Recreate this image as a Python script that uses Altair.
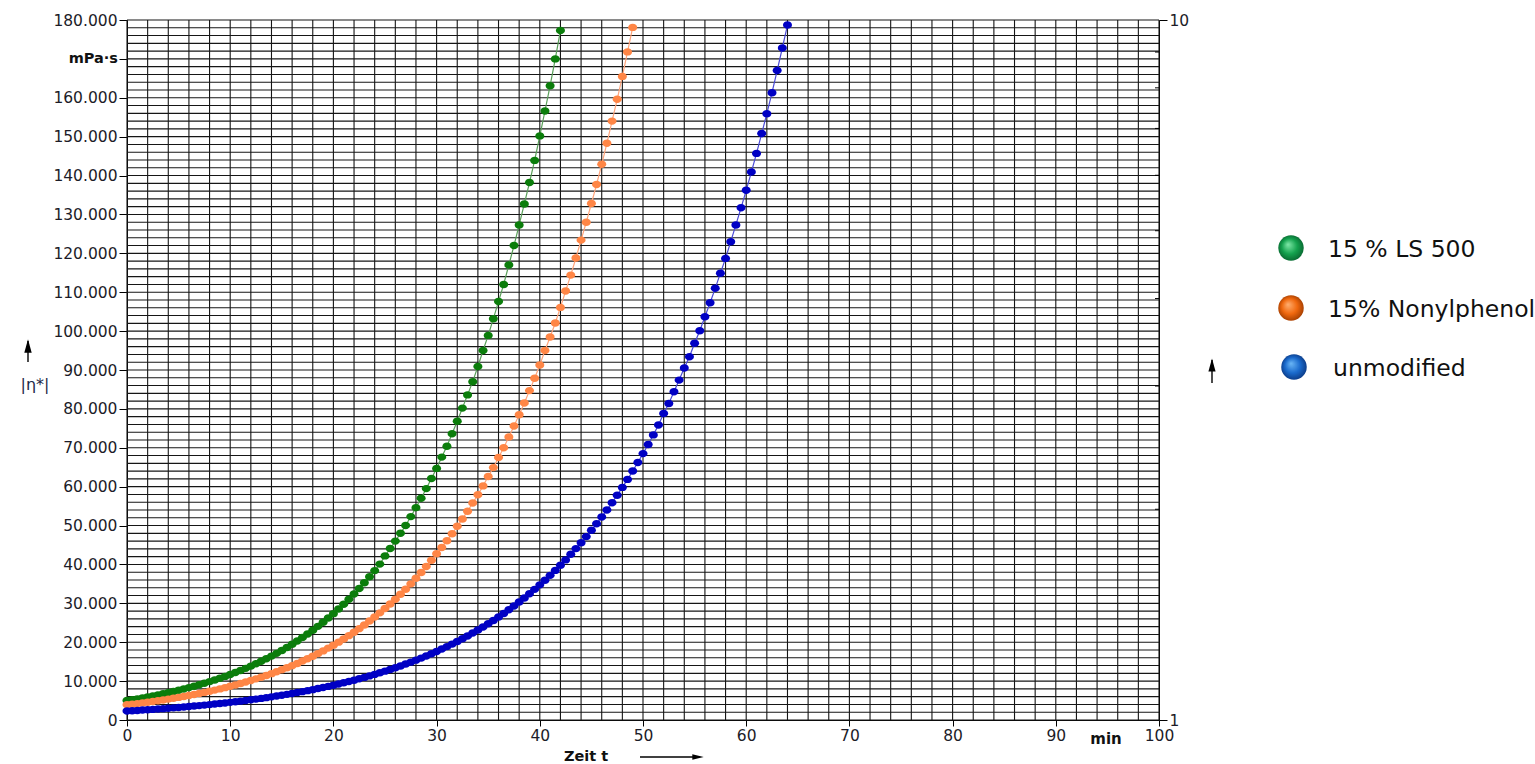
import altair as alt
import pandas as pd

# Complex viscosity |eta*| in mPa·s, one reading every 0.5 min from t = 0
STEP_MIN = 0.5

visc_ls500 = [
    5000, 5220, 5440, 5680, 5930, 6180, 6450, 6730, 7020, 7330,
    7650, 7980, 8330, 8690, 9060, 9460, 9870, 10300, 10740, 11210,
    11700, 12200, 12730, 13280, 13860, 14460, 15090, 15750, 16430, 17140,
    17890, 18660, 19470, 20320, 21200, 22120, 23080, 24080, 25120, 26220,
    27350, 28540, 29780, 31070, 32420, 33830, 35290, 36830, 38420, 40090,
    42200, 44100, 46000, 48000, 50000, 52300, 54600, 57000, 59500, 62100,
    64700, 67600, 70400, 73600, 76800, 80200, 83600, 87000, 90900, 95000,
    98900, 103200, 107600, 112000, 117000, 122000, 127300, 132700, 138200, 143900,
    150200, 156600, 163100, 170000, 177300,
]

visc_nonylphenol = [
    3900, 4060, 4220, 4400, 4580, 4760, 4960, 5160, 5370, 5590,
    5810, 6050, 6300, 6550, 6820, 7100, 7390, 7690, 8000, 8320,
    8660, 9020, 9380, 9770, 10160, 10580, 11010, 11450, 11920, 12410,
    12910, 13440, 13980, 14550, 15150, 15760, 16400, 17070, 17770, 18490,
    19240, 20020, 20840, 21690, 22570, 23490, 24450, 25440, 26480, 27550,
    28680, 29840, 31060, 32320, 33640, 35010, 36430, 37910, 39460, 41060,
    42730, 44370, 46100, 47900, 49800, 51700, 53700, 55800, 57900, 60200,
    62600, 64900, 67500, 70000, 72800, 75600, 78500, 81500, 84700, 87900,
    91300, 95000, 98500, 102100, 106100, 110300, 114400, 118800, 123400, 128000,
    132800, 137700, 142900, 148300, 154000, 159600, 165500, 171800, 178100,
]

visc_unmodified = [
    2300, 2380, 2460, 2550, 2640, 2730, 2820, 2920, 3020, 3120,
    3230, 3340, 3460, 3580, 3700, 3830, 3960, 4100, 4240, 4380,
    4540, 4690, 4850, 5020, 5200, 5370, 5560, 5750, 5950, 6160,
    6370, 6590, 6820, 7050, 7290, 7550, 7810, 8080, 8360, 8640,
    8940, 9250, 9570, 9900, 10240, 10600, 10960, 11340, 11730, 12140,
    12560, 12990, 13440, 13900, 14380, 14880, 15390, 15920, 16470, 17040,
    17630, 18240, 18870, 19520, 20190, 20890, 21610, 22350, 23130, 23920,
    24750, 25600, 26490, 27400, 28350, 29330, 30340, 31390, 32470, 33590,
    34750, 35950, 37190, 38470, 39800, 41170, 42600, 44070, 45590, 47160,
    48790, 50470, 52210, 54020, 55880, 57810, 59810, 61870, 64010, 66210,
    68500, 70860, 73310, 75840, 78800, 81400, 84400, 87400, 90500, 93400,
    96900, 100100, 103700, 107300, 111000, 114900, 118700, 123000, 127300, 131700,
    136200, 140900, 145700, 150800, 155900, 161300, 167000, 172800, 178700,
]

series_names = ["15 % LS 500", "15% Nonylphenol", "unmodified"]
point_colors = ["#0b7d0b", "#ff8646", "#0000c4"]
line_colors = ["#5a9f5a", "#ffa57c", "#4a4ad6"]

x_ticks = [0, 10, 20, 30, 40, 50, 60, 70, 80, 90, 100]
y_ticks = [0, 10000, 20000, 30000, 40000, 50000, 60000, 70000, 80000, 90000,
           100000, 110000, 120000, 130000, 140000, 150000, 160000, 170000, 180000]
grid_t = list(range(0, 101, 2))
grid_eta = list(range(0, 180001, 2000))
log_labels = [1, 10]
log_minor = [2, 3, 4, 5, 6, 7, 8, 9]

W, H = 1032, 700
FONT = "DejaVu Sans"
INK = "#1c1c28"
GRID = "#161616"

xs = alt.Scale(domain=[0, 100], nice=False, zero=False)
ys = alt.Scale(domain=[0, 180000], nice=False)

xax = alt.Axis(values=x_ticks, title=None, grid=False, tickSize=6, tickColor="#000",
               domainColor="#000", labelFontSize=15.5, labelColor=INK, labelFont=FONT,
               labelPadding=2, labelFlush=False, labelOverlap=False)
yax = alt.Axis(values=y_ticks, title=None, grid=False, tickSize=8, tickColor="#000",
               domainColor="#000", labelFontSize=15.5, labelColor=INK, labelFont=FONT,
               labelPadding=2, labelOverlap=False,
               labelExpr="datum.value == 170000 ? '' : replace(format(datum.value, ','), ',', '.')")

ELLIPSE = "M -1 0 A 1 0.82 0 1 0 1 0 A 1 0.82 0 1 0 -1 0 Z"

# chart grid: 2 min by 2.000 mPa·s
grid_v = alt.Chart(pd.DataFrame({"t": grid_t})).mark_rule(color=GRID, strokeWidth=1.1).encode(
    x=alt.X("t:Q", scale=xs, axis=xax))
grid_h = alt.Chart(pd.DataFrame({"eta": grid_eta})).mark_rule(color=GRID, strokeWidth=1.1).encode(
    y=alt.Y("eta:Q", scale=ys, axis=yax))

curves = []
for vals, pc, lc in zip([visc_ls500, visc_nonylphenol, visc_unmodified], point_colors, line_colors):
    df = pd.DataFrame({"t": [i * STEP_MIN for i in range(len(vals))], "eta": vals})
    base = alt.Chart(df).encode(x=alt.X("t:Q", scale=xs, axis=xax),
                                y=alt.Y("eta:Q", scale=ys, axis=yax))
    curves.append(base.mark_line(color=lc, strokeWidth=1.2))
    curves.append(base.mark_point(shape=ELLIPSE, size=82, filled=True, color=pc,
                                  opacity=1, strokeWidth=0))

one = pd.DataFrame({"k": [0]})


def note(text, x, y, size=15.5, weight="normal", align="left", color=INK):
    return alt.Chart(one).mark_text(text=text, font=FONT, fontSize=size, fontWeight=weight,
                                    align=align, baseline="middle", color=color).encode(
        x=alt.value(x), y=alt.value(y))


def arrow(x1, y1, x2, y2, hx, hy, head, size=150):
    stem = alt.Chart(one).mark_rule(color="#000", strokeWidth=1.4).encode(
        x=alt.value(x1), y=alt.value(y1), x2=alt.value(x2), y2=alt.value(y2))
    tip = alt.Chart(one).mark_point(shape=head, size=size, filled=True, color="#000",
                                    opacity=1, strokeWidth=0).encode(x=alt.value(hx), y=alt.value(hy))
    return [stem, tip]


UP = "M 0 -1 L 0.55 1 L -0.55 1 Z"
RIGHT = "M 1 0 L -1 -0.5 L -1 0.5 Z"

notes = [
    note("mPa·s", -9, H - 170000 / 180000 * H, size=14.5, weight="bold", align="right", color="#111"),
    note("min", 979, 719, size=15, weight="bold", align="center", color="#111"),
    note("Zeit t", 459, 737, size=14.5, weight="bold", align="center", color="#111"),
    note("|η*|", -92, 365, size=16, align="center", color="#1e2a4a"),
]
notes += arrow(-99, 321, -99, 342, -99, 326, UP, size=180)
notes += arrow(1085, 340, 1085, 363, 1085, 345, UP, size=170)
notes += arrow(513, 737, 570, 737, 571, 737, RIGHT, size=130)

# legend: shaded spheres with labels
sphere_stops = [
    ["#7fe8a8", "#14a24e", "#08622e"],
    ["#ffae70", "#f0680e", "#9c3a00"],
    ["#6ab6f6", "#1a6acc", "#0a357e"],
]
legend_y = [228, 288, 347]
legend_x = [1164, 1164, 1167]
text_x = [1201, 1201, 1206]
legend = []
for name, stops, ly, lx, tx in zip(series_names, sphere_stops, legend_y, legend_x, text_x):
    grad = {"gradient": "radial", "x1": 0.38, "y1": 0.36, "r1": 0.0,
            "x2": 0.5, "y2": 0.5, "r2": 0.55,
            "stops": [{"offset": 0, "color": stops[0]},
                      {"offset": 0.55, "color": stops[1]},
                      {"offset": 1, "color": stops[2]}]}
    legend.append(alt.Chart(one).mark_circle(size=650, fill=grad, opacity=1, strokeWidth=0).encode(
        x=alt.value(lx), y=alt.value(ly)))
    legend.append(note(name, tx, ly + 2, size=23.5, color="#111"))

left_part = alt.layer(grid_v, grid_h, *curves, *notes, *legend)

# secondary logarithmic axis on the right (1 ... 10)
log_scale = alt.Scale(type="log", domain=[1, 10], nice=False)
rax = alt.Axis(orient="right", values=log_labels, format="d", title=None, grid=False,
               tickSize=8, tickColor="#000", domainColor="#000", labelFontSize=15.5,
               labelColor=INK, labelFont=FONT, labelPadding=2, labelOverlap=False)
r_axis = alt.Chart(pd.DataFrame({"r": log_labels})).mark_point(opacity=0).encode(
    y=alt.Y("r:Q", scale=log_scale, axis=rax))
r_minor = alt.Chart(pd.DataFrame({"r": log_minor})).mark_rule(color="#000", strokeWidth=1).encode(
    y=alt.Y("r:Q", scale=log_scale, axis=rax), x=alt.value(W - 4), x2=alt.value(W))
right_part = alt.layer(r_axis, r_minor)

chart = alt.layer(left_part, right_part).resolve_scale(y="independent").properties(
    width=W, height=H, autosize="none",
    padding={"left": 127, "top": 20, "right": 376, "bottom": 44},
    background="white",
).configure_view(stroke=None)

chart.save("out.html", embed_options={"renderer": "svg", "actions": False})
